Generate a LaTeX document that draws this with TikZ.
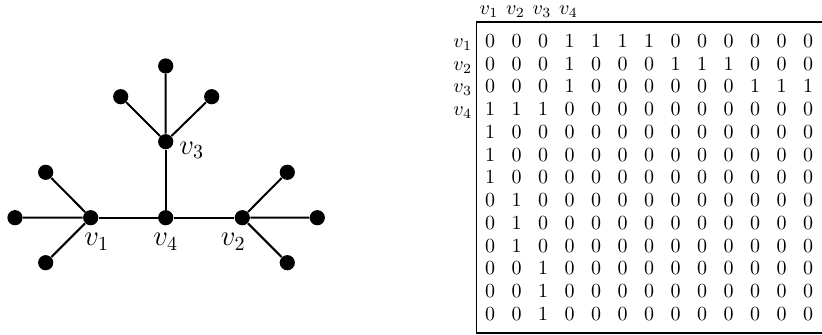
\documentclass[tikz,border=0pt]{standalone}
\begin{document}
\begin{tikzpicture}[x=0.5pt,y=-0.5pt,
  dot/.style={circle,fill=black,inner sep=0pt,minimum size=7.6pt},
  edge/.style={line width=1pt},
  glabel/.style={inner sep=0pt,font=\fontsize{14}{16}\selectfont},
  entry/.style={anchor=base,inner sep=0pt,font=\fontsize{10}{12}\selectfont},
  rowlab/.style={anchor=base east,inner sep=0pt,font=\fontsize{10}{12}\selectfont},
  collab/.style={anchor=base,inner sep=0pt,font=\fontsize{10}{12}\selectfont},
  frame/.style={line width=0.55pt}]
\useasboundingbox (0,0) rectangle (822,335);

% ---- the tree ----
\node[dot] (v4) at (165.7,217.7) {};
\node[dot] (v1) at (90.7,217.7) {};
\node[dot] (v2) at (242.3,217.7) {};
\node[dot] (v3) at (165.7,141.7) {};
\node[dot] (a1) at (165.7,66) {};
\node[dot] (a2) at (120.7,96.7) {};
\node[dot] (a3) at (211.7,96.7) {};
\node[dot] (b1) at (15,217.7) {};
\node[dot] (b2) at (45.7,172.3) {};
\node[dot] (b3) at (45.7,262.7) {};
\node[dot] (c1) at (317.3,217.7) {};
\node[dot] (c2) at (287.3,172.3) {};
\node[dot] (c3) at (287.3,262.7) {};

\draw[edge] (v1) -- (v4) -- (v2);
\draw[edge] (v4) -- (v3);
\draw[edge] (v3) -- (a1) (v3) -- (a2) (v3) -- (a3);
\draw[edge] (v1) -- (b1) (v1) -- (b2) (v1) -- (b3);
\draw[edge] (v2) -- (c1) (v2) -- (c2) (v2) -- (c3);

\node[glabel] (l3) at (191.7,150) {$v_3$};
\node[glabel] (l1) at (96.7,241.7) {$v_1$};
\node[glabel] (l4) at (165.7,241.7) {$v_4$};
\node[glabel] (l2) at (233.3,241.7) {$v_2$};

% ---- adjacency matrix ----
\coordinate (tl) at (476.5,22);
\coordinate (tr) at (822,22);
\coordinate (bl) at (476.5,333);
\coordinate (br) at (822,333);
\draw[frame] (tr) -- (tl) -- (bl) -- (br);

\foreach \c in {1,...,4}
  \node[collab] (h\c) at ({489+26.5*(\c-1)},15) {$v_{\c}$};

\foreach \r in {1,...,4}
  \node[rowlab] (r\r) at (472.5,{41+22.75*(\r-1)+6.4}) {$v_{\r}$};

\foreach \row [count=\r] in {
  {0,0,0,1,1,1,1,0,0,0,0,0,0},
  {0,0,0,1,0,0,0,1,1,1,0,0,0},
  {0,0,0,1,0,0,0,0,0,0,1,1,1},
  {1,1,1,0,0,0,0,0,0,0,0,0,0},
  {1,0,0,0,0,0,0,0,0,0,0,0,0},
  {1,0,0,0,0,0,0,0,0,0,0,0,0},
  {1,0,0,0,0,0,0,0,0,0,0,0,0},
  {0,1,0,0,0,0,0,0,0,0,0,0,0},
  {0,1,0,0,0,0,0,0,0,0,0,0,0},
  {0,1,0,0,0,0,0,0,0,0,0,0,0},
  {0,0,1,0,0,0,0,0,0,0,0,0,0},
  {0,0,1,0,0,0,0,0,0,0,0,0,0},
  {0,0,1,0,0,0,0,0,0,0,0,0,0}}
  \foreach \e [count=\c] in \row
    \node[entry] (m-\r-\c) at ({490+26.5*(\c-1)},{41+22.75*(\r-1)+6.4}) {\e};
\end{tikzpicture}
\end{document}
